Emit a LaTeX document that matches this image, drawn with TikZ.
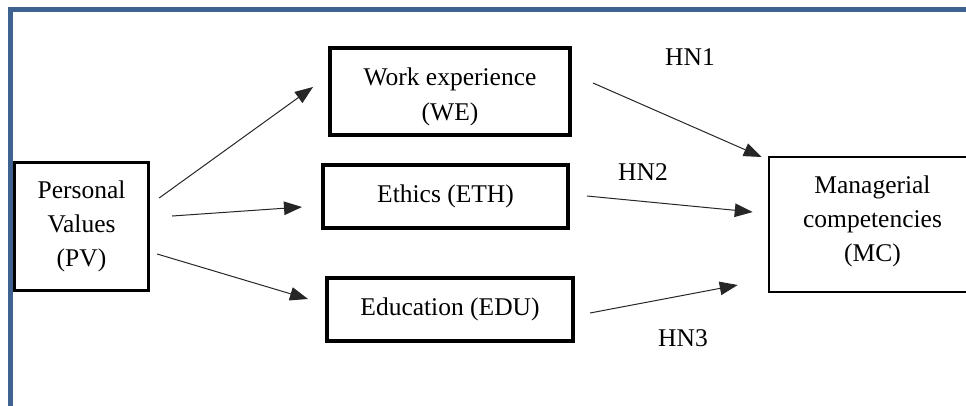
\documentclass[tikz,border=0pt]{standalone}
\usepackage{fontspec}
\setmainfont{Liberation Serif}
\usetikzlibrary{arrows.meta,calc}
\definecolor{frameblue}{RGB}{62,99,145}
\tikzset{
  box/.style={draw=black, line width=#1, align=center, inner sep=0pt,
    font=\fontsize{25.5}{34}\selectfont},
  box/.default=4pt,
  link/.style={draw=black!85, line width=1pt,
    -{Triangle[length=18pt,width=13.5pt]}},
  hyp/.style={font=\fontsize{25.5}{30}\selectfont, inner sep=0pt}
}
\begin{document}
\begin{tikzpicture}[x=1pt,y=-1pt]
  \useasboundingbox (0,0) rectangle (966,405);
  % page frame along the left and top
  \draw[frameblue, line width=5pt] (10.5,410) -- (10.5,9) -- (970,9);

  % constructs
  \node[box=3.3pt, minimum width=134pt, minimum height=128pt] (pv) at (81.5,226.5)
    {Personal\\Values\\(PV)};
  \node[box, minimum width=240pt, minimum height=87pt] (we) at (450,91.5)
    {\rule{0pt}{28pt}Work experience\\[1pt](WE)};
  \node[box, minimum width=245pt, minimum height=63pt] (eth) at (445.5,196.5)
    {Ethics (ETH)};
  \node[box, minimum width=246pt, minimum height=63pt] (edu) at (450,309.5)
    {Education (EDU)};
  \node[box=2.5pt, minimum width=207pt, minimum height=135pt] (mc) at (872.5,224.5)
    {Managerial\\competencies\\(MC)\rule[-12pt]{0pt}{0pt}};

  % paths from personal values to the mediators
  \draw[link] ($(pv.east)+(9,-28.5)$) -- ($(we.west)+(-15,-4.5)$);
  \draw[link] ($(pv.east)+(22,-10.5)$) -- ($(eth.west)+(-19,10.5)$);
  \draw[link] ($(pv.east)+(7,27.5)$) -- ($(edu.west)+(-17,-10.5)$);

  % hypothesised paths to managerial competencies
  \draw[link] ($(we.east)+(21,-8.5)$) -- ($(mc.west)+(-6,-67.5)$);
  \draw[link] ($(eth.east)+(17,-0.5)$) -- ($(mc.west)+(-15,-12.5)$);
  \draw[link] ($(edu.east)+(15,3.5)$) -- ($(mc.west)+(-30,60.5)$);

  % hypothesis labels
  \node[hyp] (hn1) at (690,57) {HN1};
  \node[hyp] (hn2) at (643,172) {HN2};
  \node[hyp] (hn3) at (683,338) {HN3};
\end{tikzpicture}
\end{document}
